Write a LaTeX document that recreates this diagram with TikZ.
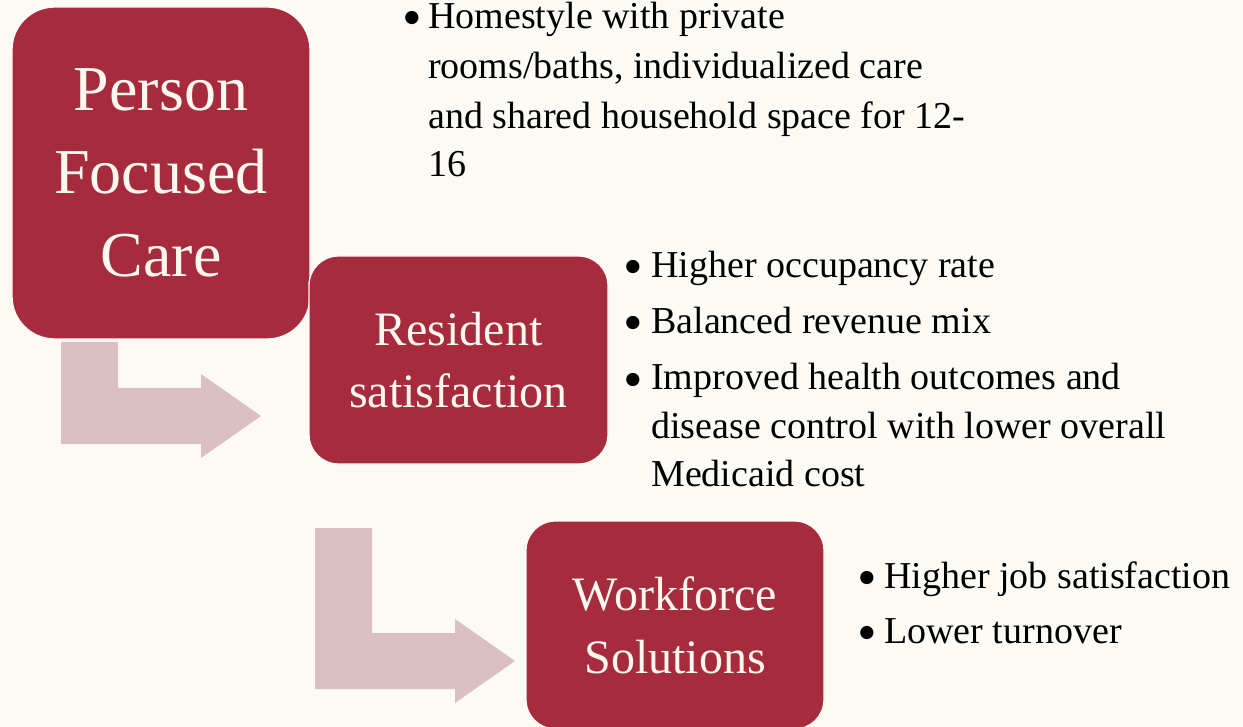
\documentclass[tikz,border=0pt]{standalone}
\usepackage{fontspec}
\setmainfont{Liberation Serif}
\newfontfamily\dotfont{DejaVu Sans}
\definecolor{bg}{HTML}{FCFAF5}
\definecolor{wine}{HTML}{A62B3D}
\definecolor{blush}{HTML}{DBBFC1}
\definecolor{cream}{HTML}{FCF8F0}
\tikzset{
  box/.style={draw=bg, line width=1pt, fill=wine, text=cream, align=center, inner sep=0pt},
  bigtxt/.style={font=\fontsize{48}{62}\selectfont},
  midtxt/.style={font=\fontsize{36}{47}\selectfont},
  item/.style={anchor=base west, inner sep=0pt, font=\fontsize{28.5}{36}\selectfont, text=black},
  dot/.style={anchor=base, inner sep=0pt, yshift=4.5pt, font=\dotfont\fontsize{13}{13}\selectfont, text=black},
  bent/.style={fill=blush, draw=none}
}
\begin{document}
\begin{tikzpicture}[x=0.75pt,y=-0.75pt]
\fill[bg] (0,0) rectangle (1243,727);
\useasboundingbox (0,0) rectangle (1243,727);
% bent arrows
\fill[bent] (61,342) -- (118,342) -- (118,388) -- (201,388) -- (201,374) -- (261,416) -- (201,458) -- (201,444) -- (61,444) -- cycle;
\fill[bent] (315,528) -- (372,528) -- (372,633) -- (455,633) -- (455,619) -- (515,661) -- (455,703) -- (455,689) -- (315,689) -- cycle;
% boxes
\node[box, bigtxt, minimum width=223.5pt, minimum height=249pt, rounded corners=32pt] (pfc) at (161,173) {Person\\Focused\\Care};
\node[box, midtxt, minimum width=224.25pt, minimum height=156pt, rounded corners=22pt] (rs) at (458.5,360) {Resident\\satisfaction};
\node[box, midtxt, minimum width=223.5pt, minimum height=156pt, rounded corners=22pt] (wf) at (675,625) {Workforce\\Solutions};
% bullets: person focused care
\node[dot] (b1) at (412,29) {●};
\node[item] (t1a) at (428,29) {Homestyle with private};
\node[item] (t1b) at (428,79) {rooms/baths, individualized care};
\node[item] (t1c) at (428,129) {and shared household space for 12-};
\node[item] (t1d) at (428,177) {16};
% bullets: resident satisfaction
\node[dot] (b2) at (633,278) {●};
\node[item] (t2a) at (651,278) {Higher occupancy rate};
\node[dot] (b3) at (633,334) {●};
\node[item] (t3a) at (651,334) {Balanced revenue mix};
\node[dot] (b4) at (633,390) {●};
\node[item] (t4a) at (651,390) {Improved health outcomes and};
\node[item] (t4b) at (651,438) {disease control with lower overall};
\node[item] (t4c) at (651,486) {Medicaid cost};
% bullets: workforce
\node[dot] (b5) at (867,588) {●};
\node[item] (t5a) at (884,588) {Higher job satisfaction};
\node[dot] (b6) at (867,643) {●};
\node[item] (t6a) at (884,643) {Lower turnover};
\end{tikzpicture}
\end{document}
